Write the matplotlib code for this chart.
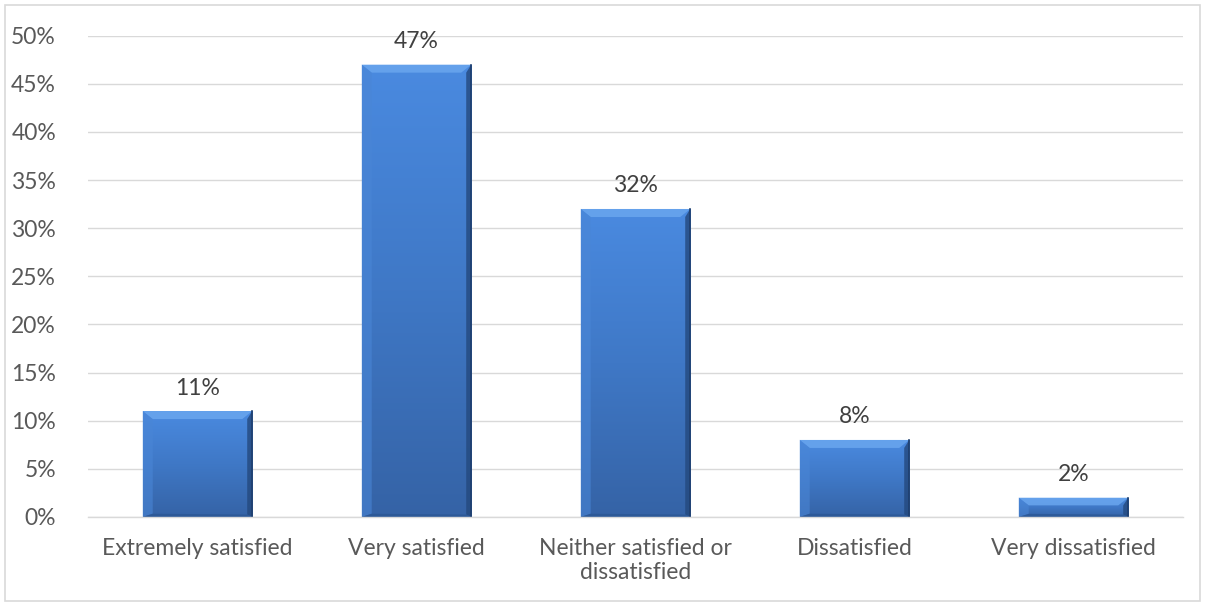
import numpy as np
import matplotlib.pyplot as plt
from matplotlib.patches import Polygon, Rectangle
from matplotlib.colors import LinearSegmentedColormap

# Survey responses, share of respondents (%)
categories = ["Extremely satisfied", "Very satisfied",
              "Neither satisfied or\ndissatisfied", "Dissatisfied",
              "Very dissatisfied"]
shares = [11, 47, 32, 8, 2]
yticks = [0, 5, 10, 15, 20, 25, 30, 35, 40, 45, 50]

plt.rcParams['font.family'] = ['Lato', 'DejaVu Sans']
fsize = 16.5

fig = plt.figure(figsize=(12.05, 6.06), dpi=100)
ax = fig.add_axes([0.073, 0.147, 0.9087, 0.794])

# light frame round the whole chart
fig.patches.append(Rectangle((0.004, 0.008), 0.992, 0.984, transform=fig.transFigure,
                             fill=False, edgecolor='#d9d9d9', linewidth=1.2))

x = np.arange(len(categories))
width = 0.5
ax.set_xlim(-0.5, len(categories) - 0.5)
ax.set_ylim(0, 50)

grad = LinearSegmentedColormap.from_list('bar', ['#3563a6', '#3f78c6', '#4a8ae0'])
gimg = np.linspace(0, 1, 256).reshape(-1, 1)

# bevel size in data units (about 10 px across, 8 px down)
bx = 10 * (len(categories) / 1095)
by = 8 * (50 / 481)

for xi, val in zip(x, shares):
    x0, x1 = xi - width / 2, xi + width / 2
    bars = ax.bar(xi, val, width=width, color='#3f7ad0', zorder=2)
    im = ax.imshow(gimg, cmap=grad, origin='lower', aspect='auto',
                   extent=(x0, x1, 0, val), zorder=2.1)
    im.set_clip_path(bars[0])
    b = min(by, val / 2.5)
    # top bevel (lighter)
    ax.add_patch(Polygon([(x0, val), (x1, val), (x1 - bx, val - b), (x0 + bx, val - b)],
                         closed=True, facecolor='#6aa6ee', edgecolor='none', alpha=0.85, zorder=2.2))
    # left bevel
    ax.add_patch(Polygon([(x0, val), (x0 + bx, val - b), (x0 + bx, b * 0.4), (x0, 0)],
                         closed=True, facecolor='#4a86d6', edgecolor='none', alpha=0.6, zorder=2.2))
    # right bevel (dark)
    ax.add_patch(Polygon([(x1, val), (x1 - bx * 0.5, val - b), (x1 - bx * 0.5, b * 0.3), (x1, 0)],
                         closed=True, facecolor='#24497e', edgecolor='none', alpha=0.8, zorder=2.2))
    # bottom bevel (dark)
    ax.add_patch(Polygon([(x0, 0), (x1, 0), (x1 - bx * 0.5, b * 0.3), (x0 + bx, b * 0.4)],
                         closed=True, facecolor='#2a5592', edgecolor='none', alpha=0.7, zorder=2.2))
    ax.plot([x1, x1], [0, val], color='#1f3f6e', linewidth=1.2, zorder=2.3)
    ax.text(xi, val + 1.3, f"{val}%", ha='center', va='bottom', fontsize=fsize,
            color='#404040', zorder=3)

ax.set_yticks(yticks)
ax.set_yticklabels([f"{t}%" for t in yticks])
ax.set_xticks(x)
ax.set_xticklabels(categories, linespacing=1.2)
ax.tick_params(axis='both', length=0, labelsize=fsize, labelcolor='#595959')
ax.tick_params(axis='y', pad=23)
ax.tick_params(axis='x', pad=15)

ax.grid(axis='y', color='#d9d9d9', linewidth=1.0, zorder=0)
ax.set_axisbelow(True)
for side in ['top', 'right', 'left']:
    ax.spines[side].set_visible(False)
ax.spines['bottom'].set_color('#d9d9d9')
ax.spines['bottom'].set_linewidth(1.0)

fig.savefig('out.png', dpi=100)
